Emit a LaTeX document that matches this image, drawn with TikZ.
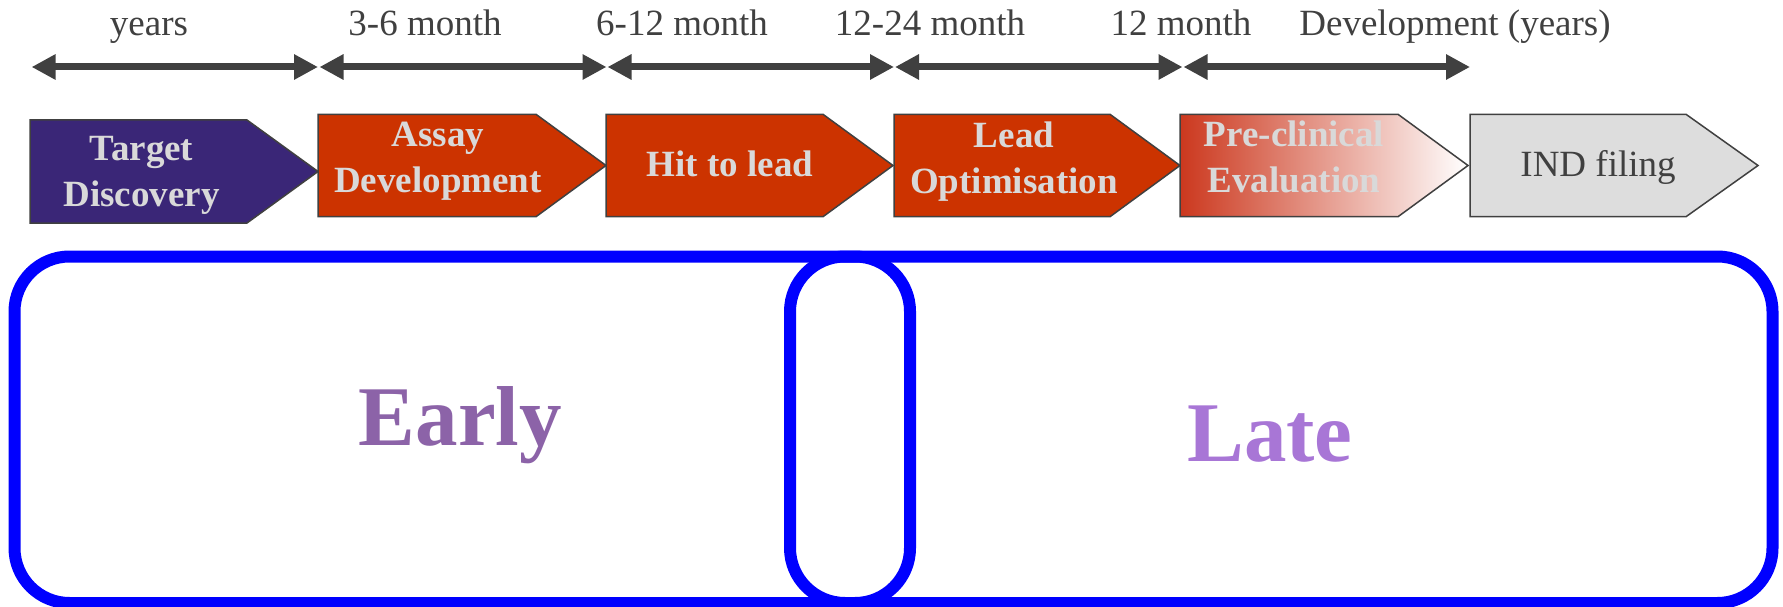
\documentclass[tikz,border=0pt]{standalone}
\usepackage{fontspec}
\setmainfont{Liberation Serif}
\usetikzlibrary{arrows.meta}
\definecolor{darkline}{HTML}{404040}
\definecolor{labelgray}{HTML}{D9D9D9}
\definecolor{phasepurple}{RGB}{58,38,119}
\definecolor{phasered}{HTML}{CC3300}
\definecolor{gradred}{RGB}{204,56,30}
\definecolor{gradmid}{RGB}{226,150,150}
\definecolor{indgray}{HTML}{DDDDDD}
\definecolor{stageblue}{HTML}{0000FF}
\definecolor{earlycol}{RGB}{140,99,168}
\definecolor{latecol}{RGB}{168,118,214}
\begin{document}
\begin{tikzpicture}[x=1pt,y=-1pt,
  timeline/.style={draw=darkline, line width=7pt, >={Triangle[length=24pt,width=24pt]}, <->},
  phasebox/.style={draw=darkline, line width=1.5pt, line join=miter},
  phaselabel/.style={text=labelgray, font=\bfseries\fontsize{37}{46}\selectfont, align=center, inner sep=0pt},
  toplabel/.style={text=darkline, font=\fontsize{37}{44}\selectfont, anchor=base, inner sep=0pt},
  stagebox/.style={draw=stageblue, line width=12pt, rounded corners=55pt},
  stagelabel/.style={font=\bfseries\fontsize{85}{90}\selectfont, anchor=base, inner sep=0pt}]
\useasboundingbox (0,0) rectangle (1783,607);

% stage frames
\draw[stagebox] (14.5,256.5) rectangle (910,603);
\draw[stagebox] (790,256.5) rectangle (1772.5,603);
\node[stagelabel, text=earlycol] (early) at (460.5,445) {Early};
\node[stagelabel, text=latecol] (late) at (1270,461) {Late};

% timeline arrows
\coordinate (a1l) at (31.6,67);  \coordinate (a1r) at (318,67);
\coordinate (a2l) at (319.5,67); \coordinate (a2r) at (606.5,67);
\coordinate (a3l) at (607.5,67); \coordinate (a3r) at (894,67);
\coordinate (a4l) at (895,67);   \coordinate (a4r) at (1182.5,67);
\coordinate (a5l) at (1183.5,67);\coordinate (a5r) at (1470,67);
\draw[timeline] (a1l) -- (a1r);
\draw[timeline] (a2l) -- (a2r);
\draw[timeline] (a3l) -- (a3r);
\draw[timeline] (a4l) -- (a4r);
\draw[timeline] (a5l) -- (a5r);

% duration labels
\node[toplabel] (d1) at (149,36) {years};
\node[toplabel] (d2) at (425,36) {3-6 month};
\node[toplabel] (d3) at (682,36) {6-12 month};
\node[toplabel] (d4) at (930,36) {12-24 month};
\node[toplabel] (d5) at (1181,36) {12 month};
\node[toplabel] (d6) at (1455,36) {Development (years)};

% phase boxes
\draw[phasebox, fill=phasepurple] (30,120) -- (247,120) -- (318,171.5) -- (247,223) -- (30,223) -- cycle;
\draw[phasebox, fill=phasered] (318,114.3) -- (536,114.3) -- (606,165.5) -- (536,216.7) -- (318,216.7) -- cycle;
\draw[phasebox, fill=phasered] (606,114.3) -- (823,114.3) -- (893,165.5) -- (823,216.7) -- (606,216.7) -- cycle;
\draw[phasebox, fill=phasered] (894,114.3) -- (1110,114.3) -- (1180,165.5) -- (1110,216.7) -- (894,216.7) -- cycle;
\draw[phasebox, left color=gradred, middle color=gradmid, right color=white] (1180,114.3) -- (1398,114.3) -- (1468,165.5) -- (1398,216.7) -- (1180,216.7) -- cycle;
\draw[phasebox, fill=indgray] (1470,114.3) -- (1686,114.3) -- (1758,165.5) -- (1686,216.7) -- (1470,216.7) -- cycle;

\node[phaselabel] (p1) at (141.5,175.1) {Target\\Discovery};
\node[phaselabel] (p2) at (438,161.2) {Assay\\Development};
\node[phaselabel, anchor=base] (p3) at (730,176.7) {Hit to lead};
\node[phaselabel] (p4) at (1014,161.2) {Lead\\Optimisation};
\node[phaselabel] (p5) at (1294,157.2) {Pre-clinical\\Evaluation};
\node[phaselabel, anchor=base, text=darkline, font=\fontsize{37}{46}\selectfont] (p6) at (1598,176) {IND filing};
\end{tikzpicture}
\end{document}
